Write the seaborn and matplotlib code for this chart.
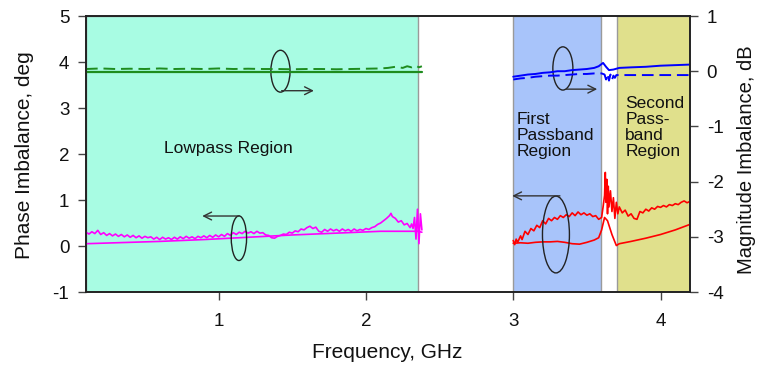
import numpy as np
import pandas as pd
import seaborn as sns
import matplotlib
matplotlib.use("Agg")
import matplotlib.pyplot as plt
from matplotlib.patches import Ellipse

# ---------------- data ----------------
# Lowpass region, phase imbalance (deg), measured (noisy) and simulated
lp_meas_f = [0.10, 0.12, 0.14, 0.16, 0.18, 0.20, 0.22, 0.24, 0.26, 0.28, 0.30, 0.32, 0.34, 0.36,
             0.38, 0.40, 0.42, 0.44, 0.46, 0.48, 0.50, 0.52, 0.54, 0.56, 0.58, 0.60, 0.62, 0.64,
             0.66, 0.68, 0.70, 0.72, 0.74, 0.76, 0.78, 0.80, 0.82, 0.84, 0.86, 0.88, 0.90, 0.92,
             0.94, 0.96, 0.98, 1.00, 1.02, 1.04, 1.06, 1.08, 1.10, 1.12, 1.14, 1.16, 1.18, 1.20,
             1.22, 1.24, 1.26, 1.28, 1.30, 1.32, 1.34, 1.36, 1.38, 1.40, 1.42, 1.44, 1.46, 1.48,
             1.50, 1.52, 1.54, 1.56, 1.58, 1.60, 1.62, 1.64, 1.66, 1.68, 1.70, 1.72, 1.74, 1.76,
             1.78, 1.80, 1.82, 1.84, 1.86, 1.88, 1.90, 1.92, 1.94, 1.96, 1.98, 2.00, 2.02, 2.04,
             2.06, 2.08, 2.10, 2.12, 2.14, 2.16, 2.17, 2.18, 2.20, 2.22, 2.24, 2.26, 2.28, 2.30,
             2.31, 2.32, 2.33, 2.34, 2.35, 2.36, 2.37, 2.38]
lp_meas_phase = [0.30, 0.26, 0.31, 0.27, 0.34, 0.25, 0.29, 0.23, 0.27, 0.22, 0.26, 0.21, 0.25, 0.20,
                 0.24, 0.19, 0.23, 0.18, 0.22, 0.17, 0.21, 0.18, 0.20, 0.15, 0.19, 0.14, 0.19, 0.15,
                 0.18, 0.14, 0.19, 0.15, 0.20, 0.16, 0.21, 0.17, 0.20, 0.16, 0.21, 0.18, 0.22, 0.18,
                 0.23, 0.19, 0.24, 0.20, 0.25, 0.21, 0.27, 0.23, 0.29, 0.25, 0.30, 0.27, 0.32, 0.28,
                 0.31, 0.27, 0.32, 0.28, 0.29, 0.24, 0.23, 0.18, 0.17, 0.21, 0.23, 0.26, 0.25, 0.30,
                 0.28, 0.33, 0.31, 0.37, 0.35, 0.40, 0.43, 0.38, 0.41, 0.32, 0.30, 0.36, 0.32, 0.37,
                 0.33, 0.36, 0.32, 0.37, 0.33, 0.36, 0.32, 0.37, 0.33, 0.36, 0.34, 0.38, 0.36, 0.40,
                 0.42, 0.47, 0.50, 0.55, 0.60, 0.66, 0.71, 0.64, 0.60, 0.52, 0.55, 0.46, 0.49, 0.40,
                 0.48, 0.38, 0.62, 0.15, 0.80, 0.05, 0.70, 0.35]
lp_sim_f = [0.10, 0.30, 0.60, 0.90, 1.20, 1.50, 1.80, 2.10, 2.35, 2.38]
lp_sim_phase = [0.05, 0.07, 0.10, 0.14, 0.19, 0.24, 0.28, 0.32, 0.32, 0.30]

# Lowpass region, magnitude imbalance (dB)
lp_mag_sim_f = [0.10, 0.60, 1.20, 1.80, 2.38]
lp_mag_sim = [-0.01, -0.01, -0.01, -0.01, -0.01]
lp_mag_meas_f = [0.10, 0.20, 0.30, 0.40, 0.50, 0.60, 0.70, 0.80, 0.90, 1.00, 1.10, 1.20, 1.30, 1.40,
                 1.50, 1.60, 1.70, 1.80, 1.90, 2.00, 2.10, 2.15, 2.20, 2.25, 2.28, 2.31, 2.34, 2.36, 2.38]
lp_mag_meas = [0.04, 0.05, 0.04, 0.045, 0.04, 0.05, 0.04, 0.045, 0.04, 0.05, 0.04, 0.045, 0.04, 0.04,
               0.035, 0.04, 0.04, 0.035, 0.04, 0.045, 0.05, 0.06, 0.08, 0.06, 0.09, 0.07, 0.10, 0.07, 0.09]

# Passband regions, magnitude imbalance (dB)
pb_mag_sim_f = [3.00, 3.05, 3.10, 3.15, 3.20, 3.25, 3.30, 3.35, 3.40, 3.45, 3.50, 3.55, 3.58, 3.61,
                3.63, 3.65, 3.68, 3.72, 3.80, 3.90, 4.00, 4.10, 4.20]
pb_mag_sim = [-0.10, -0.08, -0.06, -0.05, -0.03, -0.02, 0.00, 0.00, 0.02, 0.03, 0.04, 0.06, 0.09, 0.15,
              0.08, 0.02, 0.03, 0.06, 0.07, 0.08, 0.10, 0.11, 0.12]
pb_mag_meas_f = [3.00, 3.05, 3.10, 3.15, 3.20, 3.25, 3.30, 3.35, 3.40, 3.45, 3.50, 3.55, 3.60, 3.62,
                 3.63, 3.64, 3.65, 3.66, 3.67, 3.68, 3.69, 3.70, 3.75, 3.80, 3.90, 4.00, 4.10, 4.20]
pb_mag_meas = [-0.15, -0.13, -0.12, -0.10, -0.09, -0.08, -0.08, -0.07, -0.06, -0.05, -0.05, -0.04,
               -0.04, -0.06, -0.15, -0.05, -0.17, -0.06, -0.16, -0.08, -0.12, -0.07, -0.07, -0.07,
               -0.07, -0.07, -0.07, -0.07]

# Passband regions, phase imbalance (deg)
pb_sim_f = [3.00, 3.05, 3.10, 3.15, 3.20, 3.25, 3.30, 3.35, 3.40, 3.45, 3.50, 3.55, 3.58, 3.60,
            3.62, 3.64, 3.67, 3.70, 3.72, 3.80, 3.90, 4.00, 4.10, 4.20]
pb_sim_phase = [0.06, 0.07, 0.06, 0.08, 0.09, 0.09, 0.10, 0.08, 0.05, 0.04, 0.08, 0.13, 0.18, 0.35,
                0.62, 0.55, 0.25, 0.01, 0.05, 0.10, 0.17, 0.25, 0.35, 0.47]
pb_meas_f = [3.00, 3.01, 3.02, 3.03, 3.05, 3.06, 3.08, 3.10, 3.12, 3.14, 3.16, 3.18, 3.20, 3.22,
             3.24, 3.26, 3.28, 3.30, 3.32, 3.34, 3.36, 3.38, 3.40, 3.42, 3.44, 3.46, 3.48, 3.50,
             3.52, 3.54, 3.56, 3.58, 3.60, 3.61, 3.62, 3.625, 3.63, 3.635, 3.64, 3.645, 3.65, 3.66,
             3.67, 3.68, 3.69, 3.70, 3.71, 3.72, 3.74, 3.76, 3.78, 3.80, 3.82, 3.84, 3.86, 3.88,
             3.90, 3.92, 3.94, 3.96, 3.98, 4.00, 4.02, 4.04, 4.06, 4.08, 4.10, 4.12, 4.14, 4.16,
             4.18, 4.20]
pb_meas_phase = [0.12, 0.03, 0.15, 0.08, 0.22, 0.14, 0.32, 0.25, 0.38, 0.33, 0.45, 0.40, 0.55, 0.48,
                 0.60, 0.55, 0.62, 0.58, 0.66, 0.62, 0.68, 0.64, 0.72, 0.66, 0.74, 0.68, 0.72, 0.67,
                 0.70, 0.64, 0.66, 0.58, 0.62, 0.85, 1.10, 1.60, 0.95, 1.45, 0.70, 1.30, 0.85, 1.20,
                 0.75, 1.05, 0.60, 0.95, 0.70, 0.85, 0.72, 0.78, 0.65, 0.70, 0.60, 0.58, 0.75, 0.72,
                 0.80, 0.76, 0.83, 0.80, 0.86, 0.84, 0.88, 0.85, 0.90, 0.88, 0.92, 0.90, 0.95, 0.98,
                 0.94, 0.97]

regions = [(0.10, 2.355, "#A8FCE3"), (3.0, 3.593, "#A8C4FA"), (3.705, 4.20, "#E0E08C")]

# ---------------- plot ----------------
sns.set_theme(style="ticks")
plt.rcParams["font.family"] = ["Liberation Sans", "DejaVu Sans"]
plt.rcParams["axes.unicode_minus"] = False

fig = plt.figure(figsize=(7.59, 3.68), dpi=100)
ax = fig.add_axes([0.1133, 0.2065, 0.7958, 0.75])
ax2 = ax.twinx()

for x0, x1, c in regions:
    ax.axvspan(x0, x1, facecolor=c, edgecolor="#9A9A9A", lw=1.0, zorder=0)

sns.lineplot(x=lp_meas_f, y=lp_meas_phase, ax=ax, color="#FF00FF", lw=1.2, zorder=3)
sns.lineplot(x=lp_sim_f, y=lp_sim_phase, ax=ax, color="#FF00FF", lw=1.2, zorder=3)
sns.lineplot(x=pb_meas_f, y=pb_meas_phase, ax=ax, color="#FF0000", lw=1.2, zorder=3)
sns.lineplot(x=pb_sim_f, y=pb_sim_phase, ax=ax, color="#FF0000", lw=1.2, zorder=3)

sns.lineplot(x=lp_mag_sim_f, y=lp_mag_sim, ax=ax2, color="#1E8C1E", lw=1.6)
sns.lineplot(x=lp_mag_meas_f, y=lp_mag_meas, ax=ax2, color="#1E8C1E", lw=1.4)
ax2.lines[-1].set_dashes([6, 3])
sns.lineplot(x=pb_mag_sim_f, y=pb_mag_sim, ax=ax2, color="#0000FF", lw=1.4)
sns.lineplot(x=pb_mag_meas_f, y=pb_mag_meas, ax=ax2, color="#0000FF", lw=1.4)
ax2.lines[-1].set_dashes([6, 3])

ax.set_xlim(0.10, 4.20)
ax.set_ylim(-1, 5)
ax2.set_ylim(-4, 1)
ax.set_xticks([1, 2, 3, 4])
ax.set_yticks([-1, 0, 1, 2, 3, 4, 5])
ax2.set_yticks([-4, -3, -2, -1, 0, 1])

for a in (ax, ax2):
    a.tick_params(axis="both", labelsize=13.5, length=6, width=1.0, color="#444444",
                  direction="out", labelcolor="#111111")
    a.tick_params(axis="y", pad=6)
    for s in a.spines.values():
        s.set_color("#222222")
        s.set_linewidth(1.2)
ax.tick_params(axis="x", pad=9)

ax.set_xlabel("Frequency, GHz", fontsize=15, color="#111111")
ax.set_ylabel("Phase Imbalance, deg", fontsize=15, color="#111111")
ax2.set_ylabel("Magnitude Imbalance, dB", fontsize=14.5, color="#111111")
ax.xaxis.set_label_coords(0.498, -0.185)
ax.yaxis.set_label_coords(-0.086, 0.496)
ax2.yaxis.set_label_coords(1.077, 0.478)

# annotations (ellipses + arrows)
ell = [(1.42, 3.80, 0.13, 0.91), (1.138, 0.17, 0.104, 0.97),
       (3.337, 3.86, 0.136, 0.94), (3.29, 0.25, 0.183, 1.67)]
for cx, cy, w, h in ell:
    ax.add_patch(Ellipse((cx, cy), w, h, fill=False, edgecolor="#222222", lw=1.0, zorder=5))
arrows = [((1.428, 3.376), (1.647, 3.376)), ((1.14, 0.652), (0.889, 0.652)),
          ((3.36, 3.41), (3.57, 3.41)), ((3.317, 1.09), (2.993, 1.09))]
for (x0, y0), (x1, y1) in arrows:
    ax.annotate("", xy=(x1, y1), xytext=(x0, y0),
                arrowprops=dict(arrowstyle="->", color="#333333", lw=1.0,
                                shrinkA=0, shrinkB=0, mutation_scale=14), zorder=5)

ax.text(0.629, 2.13, "Lowpass Region", fontsize=12.5, ha="left", va="center", color="#111111")
ax.text(3.02, 2.92, "First\nPassband\nRegion", fontsize=12.5, ha="left", va="top",
        linespacing=1.1, color="#111111")
ax.text(3.76, 3.27, "Second\nPass-\nband\nRegion", fontsize=12.5, ha="left", va="top",
        linespacing=1.1, color="#111111")

fig.savefig("out.png", dpi=100)
